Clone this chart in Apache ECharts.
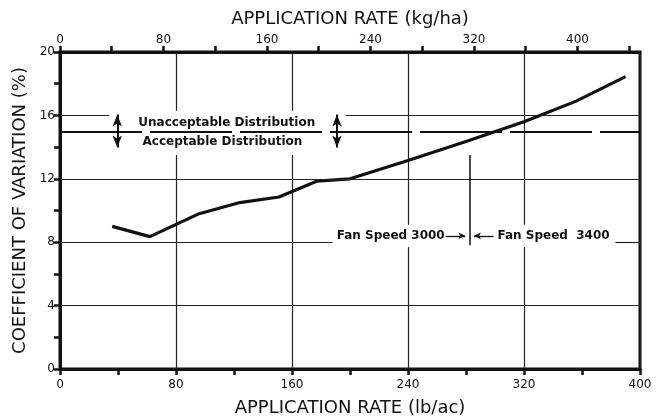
<!DOCTYPE html>
<html>
<head>
<meta charset="utf-8">
<script src="https://cdn.jsdelivr.net/npm/echarts@6/dist/echarts.min.js"></script>
<style>
html,body{margin:0;padding:0;background:#fff;}
#c{width:657px;height:417px;}
</style>
</head>
<body>
<div id="c"></div>
<script>
// ---- data ----
const rateLb = [36, 62, 96, 124, 151, 177, 200, 240, 280, 320, 356, 390];
const cvPct  = [9.0, 8.35, 9.8, 10.5, 10.85, 11.85, 12.0, 13.15, 14.35, 15.6, 16.9, 18.45];

const lbLabels = [0, 80, 160, 240, 320, 400];
const kgLabels = [0, 80, 160, 240, 320, 400];
const kgTicks  = [0, 40, 80, 120, 160, 200, 240, 280, 320, 360, 400, 440];
const cvLabels = [0, 4, 8, 12, 16, 20];

const LB_TO_KG = 1.12085;
const thresholdCV = 15;          // acceptable / unacceptable limit
const fanSwitchRate = 282.5;     // lb/ac where fan speed changes

const txtUnacc = 'Unacceptable Distribution';
const txtAcc = 'Acceptable Distribution';
const txtFan1 = 'Fan Speed 3000';
const txtFan2 = 'Fan Speed  3400';

const FONT = 'DejaVu Sans';
const INK = '#111';

const chart = echarts.init(document.getElementById('c'), null, {renderer: 'canvas'});

const gridLine = {color: '#222', width: 1.2};
const seg = (x1, y1, x2, y2) => [{coord: [x1, y1]}, {coord: [x2, y2]}];
const nameStyle = {color: INK, fontFamily: FONT, fontSize: 18};

const option = {
  animation: false,
  backgroundColor: '#fff',
  grid: {left: 60, right: 17, top: 52, bottom: 48, outerBoundsMode: 'none', containLabel: false,
    show: true, borderColor: INK, borderWidth: 3, backgroundColor: 'transparent'},
  xAxis: [
    {
      type: 'value', position: 'bottom', min: 0, max: 400, interval: 80,
      axisLine: {show: true, lineStyle: {color: INK, width: 3}},
      axisTick: {show: true, length: 6, lineStyle: {color: INK, width: 2.5}},
      minorTick: {show: true, splitNumber: 2, length: 6, lineStyle: {color: INK, width: 2.5}},
      splitLine: {show: true, lineStyle: gridLine},
      axisLabel: {color: INK, fontFamily: FONT, fontSize: 12, margin: 10,
        formatter: v => lbLabels.includes(v) ? String(v) : ''},
      name: 'APPLICATION RATE (lb/ac)', nameLocation: 'middle', nameGap: 30,
      nameTextStyle: nameStyle
    },
    {
      type: 'value', position: 'top', min: 0, max: 400 * LB_TO_KG,
      axisLine: {show: true, lineStyle: {color: INK, width: 3}},
      axisTick: {show: true, length: 6, lineStyle: {color: INK, width: 2.5}, customValues: kgTicks},
      splitLine: {show: false},
      axisLabel: {color: INK, fontFamily: FONT, fontSize: 12, margin: 6, customValues: kgLabels},
      name: 'APPLICATION RATE (kg/ha)', nameLocation: 'middle', nameGap: 24,
      nameTextStyle: nameStyle
    }
  ],
  yAxis: {
    type: 'value', min: 0, max: 20, interval: 4,
    axisLine: {show: true, lineStyle: {color: INK, width: 3}},
    axisTick: {show: true, length: 6, lineStyle: {color: INK, width: 2.5}},
    minorTick: {show: true, splitNumber: 2, length: 6, lineStyle: {color: INK, width: 2.5}},
    splitLine: {show: false},
    axisLabel: {color: INK, fontFamily: FONT, fontSize: 12, margin: 5,
      formatter: v => cvLabels.includes(v) ? String(v) : ''},
    name: 'COEFFICIENT OF VARIATION (%)', nameLocation: 'middle', nameGap: 30,
    nameTextStyle: nameStyle
  },
  series: [
    {
      name: 'boxes', type: 'line', data: [], z: 1, silent: true,
      markArea: {
        silent: true,
        itemStyle: {color: '#fff', opacity: 1},
        data: [
          [{coord: [34, 13.5]}, {coord: [197, 16.3]}],
          [{coord: [188, 7.7]}, {coord: [383, 9.1]}]
        ]
      }
    },
    {
      name: 'refs', type: 'line', data: [], z: 2, silent: true,
      markLine: {
        silent: true, symbol: ['none', 'none'],
        label: {show: false},
        lineStyle: {color: '#222', width: 1.2, type: 'solid'},
        data: [
          seg(0, 16, 34, 16), seg(197, 16, 400, 16),
          seg(0, 12, 400, 12),
          seg(0, 8, 188, 8), seg(383, 8, 400, 8),
          seg(0, 4, 400, 4),
          [{coord: [0, thresholdCV], lineStyle: {type: [82, 8], width: 2, color: INK}}, {coord: [400, thresholdCV]}],
          [{coord: [39.5, 16.05], symbol: 'arrow', symbolSize: [7, 12], lineStyle: {width: 2, color: INK}},
           {coord: [39.5, 13.98], symbol: 'arrow', symbolSize: [7, 12]}],
          [{coord: [191, 16.05], symbol: 'arrow', symbolSize: [7, 12], lineStyle: {width: 2, color: INK}},
           {coord: [191, 13.98], symbol: 'arrow', symbolSize: [7, 12]}],
          [{coord: [fanSwitchRate, 13.5], lineStyle: {width: 1.5, color: INK}}, {coord: [fanSwitchRate, 7.8]}],
          [{coord: [266, 8.4], lineStyle: {width: 1.3, color: INK}}, {coord: [279.5, 8.4], symbol: 'arrow', symbolSize: [5, 7]}],
          [{coord: [299, 8.4], lineStyle: {width: 1.3, color: INK}}, {coord: [285.5, 8.4], symbol: 'arrow', symbolSize: [5, 7]}]
        ]
      },
      markPoint: {
        silent: true, symbol: 'circle', symbolSize: 0,
        label: {show: true, color: INK, fontFamily: FONT, fontSize: 12, fontWeight: 'bold', formatter: p => p.name},
        data: [
          {name: txtUnacc, coord: [115, 15.55], label: {position: 'inside'}},
          {name: txtAcc, coord: [112, 14.3], label: {position: 'inside'}},
          {name: txtFan1, coord: [266, 8.4], label: {position: 'left', distance: 1}},
          {name: txtFan2, coord: [301, 8.4], label: {position: 'right', distance: 1}}
        ]
      }
    },
    {
      name: 'CV', type: 'line', z: 3,
      data: rateLb.map((x, i) => [x, cvPct[i]]),
      showSymbol: false, symbol: 'none',
      lineStyle: {color: INK, width: 3.2},
      silent: true
    }
  ]
};
chart.setOption(option);
</script>
</body>
</html>
